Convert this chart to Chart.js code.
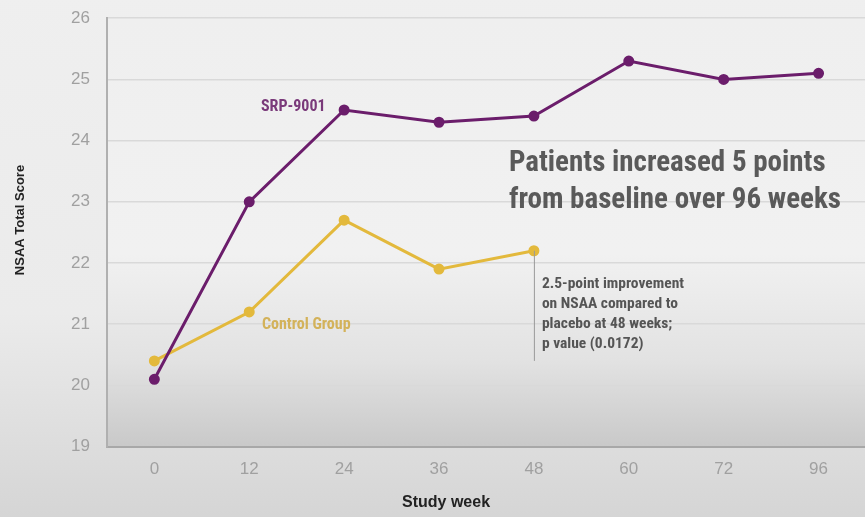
<!DOCTYPE html>
<html>
<head>
<meta charset="utf-8">
<script src="https://cdn.jsdelivr.net/npm/chart.js@4"></script>
<style>
html,body{margin:0;padding:0;background:#e6e6e6;overflow:hidden;}
#wrap{width:865px;height:517px;position:relative;overflow:hidden;}
#c{position:absolute;left:0;top:-9px;}
</style>
</head>
<body>
<div id="wrap"><canvas id="c" width="873" height="537"></canvas></div>
<script>
const weeks = ['0','12','24','36','48','60','72','96'];
const srpValues = [20.1, 23.0, 24.5, 24.3, 24.4, 25.3, 25.0, 25.1];
const controlValues = [20.4, 21.2, 22.7, 21.9, 22.2, null, null, null];
const yTicks = [19, 20, 21, 22, 23, 24, 25, 26];
const srpLabel = 'SRP-9001';
const controlLabel = 'Control Group';
const xTitle = 'Study week';
const yTitle = 'NSAA Total Score';
const headline = ['Patients increased 5 points', 'from baseline over 96 weeks'];
const note = ['2.5-point improvement', 'on NSAA compared to', 'placebo at 48 weeks;', 'p value (0.0172)'];

const PURPLE = '#6b1d6b';
const GOLD = '#e3b93c';
const NARROW = "'Liberation Sans Narrow', 'Roboto Condensed', 'Arial Narrow', 'Liberation Sans', sans-serif";
const SANS = "'Liberation Sans', Arial, sans-serif";
const OFFY = 9; // canvas is shifted up by this many px

const bgPlugin = {
  id: 'bg',
  beforeDraw(chart) {
    const {ctx, width, height, chartArea: a} = chart;
    ctx.save();
    let g = ctx.createLinearGradient(0, 0, 0, height);
    g.addColorStop(0, '#efefef');
    g.addColorStop(0.6, '#ebebeb');
    g.addColorStop(1, '#d4d4d4');
    ctx.fillStyle = g;
    ctx.fillRect(0, 0, width, height);
    g = ctx.createLinearGradient(0, a.top, 0, a.bottom);
    g.addColorStop(0, '#efefef');
    g.addColorStop(0.55, '#f1f1f1');
    g.addColorStop(0.8, '#e2e2e2');
    g.addColorStop(1, '#c9c9c9');
    ctx.fillStyle = g;
    ctx.fillRect(a.left, a.top, a.right - a.left, a.bottom - a.top);
    ctx.restore();
  }
};

const annotPlugin = {
  id: 'annot',
  afterDatasetsDraw(chart) {
    const {ctx} = chart;
    const x = chart.scales.x, y = chart.scales.y;
    ctx.save();
    ctx.textBaseline = 'middle';
    ctx.textAlign = 'center';
    // axis titles
    ctx.font = "bold 16px " + SANS;
    ctx.fillStyle = '#222222';
    ctx.fillText(xTitle, x.getPixelForValue(3) + 7, 503 + OFFY);
    ctx.save();
    ctx.translate(20, 220 + OFFY);
    ctx.rotate(-Math.PI / 2);
    ctx.font = "bold 13px " + SANS;
    ctx.fillText(yTitle, 0, 0);
    ctx.restore();
    // series labels
    ctx.font = "bold 16px " + NARROW;
    ctx.fillStyle = '#7a3a7a';
    ctx.fillText(srpLabel, x.getPixelForValue(1) + 44, y.getPixelForValue(24.55));
    ctx.fillStyle = '#d3b25a';
    ctx.fillText(controlLabel, x.getPixelForValue(1) + 57, y.getPixelForValue(20.98));
    // headline
    ctx.textAlign = 'left';
    ctx.font = "bold 29px " + NARROW;
    ctx.fillStyle = '#5a5a5a';
    const hx = x.getPixelForValue(4) - 25;
    ctx.fillText(headline[0], hx, y.getPixelForValue(23.62));
    ctx.fillText(headline[1], hx, y.getPixelForValue(23.02));
    // note line
    const nx = x.getPixelForValue(4);
    ctx.strokeStyle = '#9a9a9a';
    ctx.lineWidth = 1;
    ctx.beginPath();
    ctx.moveTo(nx + 0.5, y.getPixelForValue(controlValues[4]));
    ctx.lineTo(nx + 0.5, y.getPixelForValue(20.4));
    ctx.stroke();
    ctx.font = "bold 15.5px " + NARROW;
    ctx.fillStyle = '#555555';
    note.forEach((t, i) => {
      ctx.fillText(t, nx + 8, y.getPixelForValue(21.66) + i * 20);
    });
    ctx.restore();
  }
};

new Chart(document.getElementById('c'), {
  type: 'line',
  data: {
    labels: weeks,
    datasets: [
      {
        label: srpLabel, data: srpValues,
        borderColor: PURPLE, backgroundColor: PURPLE,
        borderWidth: 3, pointRadius: 4, pointHoverRadius: 4, tension: 0
      },
      {
        label: controlLabel, data: controlValues,
        borderColor: GOLD, backgroundColor: GOLD,
        borderWidth: 3, pointRadius: 4, pointHoverRadius: 4, tension: 0, spanGaps: false
      }
    ]
  },
  options: {
    responsive: false,
    animation: false,
    events: [],
    layout: {padding: {top: 0, left: 54, right: 0, bottom: 35}},
    plugins: {legend: {display: false}, tooltip: {enabled: false}},
    scales: {
      x: {
        offset: true,
        grid: {display: false, drawTicks: false},
        border: {display: true, color: '#a8a8a8', width: 2},
        ticks: {color: '#a0a0a0', font: {size: 17, family: SANS}, padding: 13}
      },
      y: {
        min: yTicks[0], max: yTicks[yTicks.length - 1],
        afterBuildTicks(axis) { axis.ticks = yTicks.map(v => ({value: v})); },
        grid: {color: '#d9d9d9', lineWidth: 1.5, drawTicks: false},
        border: {display: true, color: '#b0b0b0', width: 2},
        ticks: {color: '#a0a0a0', font: {size: 17, family: SANS}, padding: 17}
      }
    }
  },
  plugins: [bgPlugin, annotPlugin]
});
</script>
</body>
</html>
